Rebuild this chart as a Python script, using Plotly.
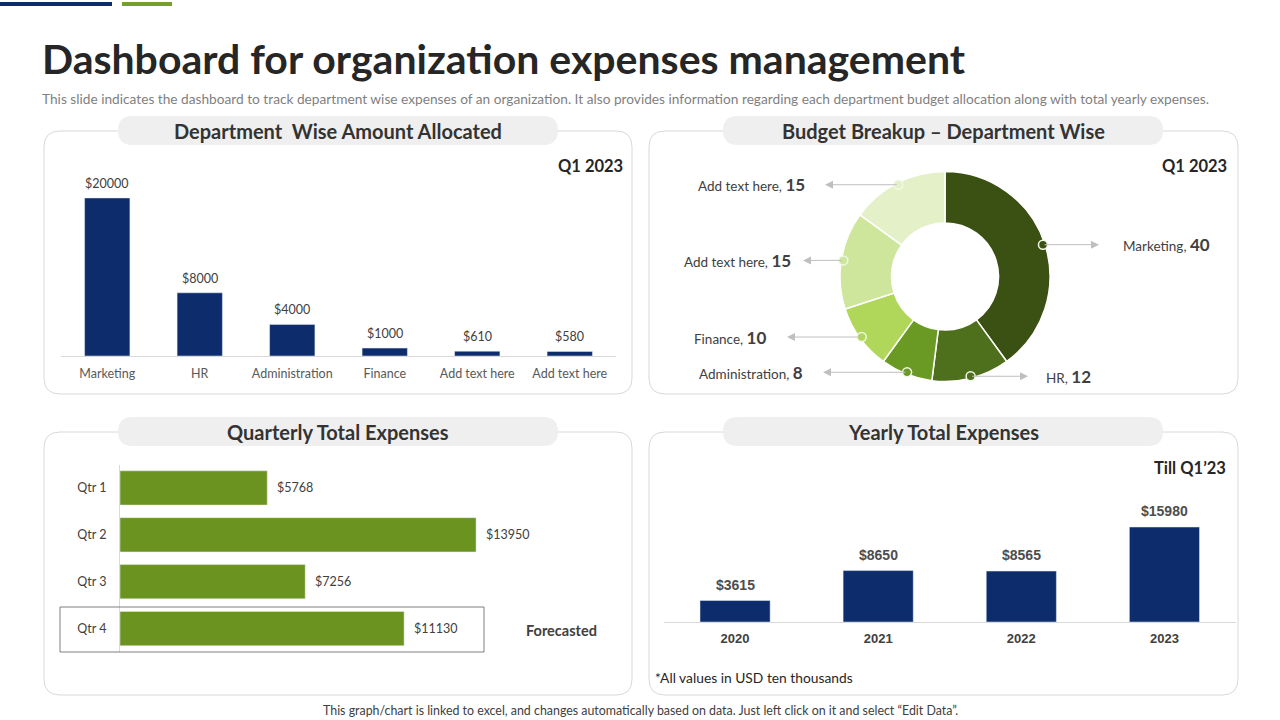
import math
import plotly.graph_objects as go

# ---------------- data ----------------
dept_categories = ["Marketing", "HR", "Administration", "Finance", "Add text here", "Add text here"]
dept_amounts = [20000, 8000, 4000, 1000, 610, 580]

budget_labels = ["Marketing", "HR", "Administration", "Finance", "Add text here", "Add text here"]
budget_shares = [40, 12, 8, 10, 15, 15]

quarters = ["Qtr 1", "Qtr 2", "Qtr 3", "Qtr 4"]
quarter_expenses = [5768, 13950, 7256, 11130]

years = ["2020", "2021", "2022", "2023"]
yearly_expenses = [3615, 8650, 8565, 15980]

# ---------------- styling ----------------
W, H = 1280, 720
NAVY = "#0d2c6b"
GREEN = "#6b931f"
DONUT_COLORS = ["#3b5113", "#4e6f1c", "#6b9a24", "#b0d75a", "#cde69c", "#e4f1c8"]
BODY_FONT = "Lato"
HEAD_FONT = "Lato"
ARIAL = "Liberation Sans"


def X(p):
    return p / W


def Y(p):
    return 1 - p / H


def rrect_path(x0, y0, x1, y1, r):
    pts = [
        ("M", [(x0 + r, y0)]), ("L", [(x1 - r, y0)]), ("Q", [(x1, y0), (x1, y0 + r)]),
        ("L", [(x1, y1 - r)]), ("Q", [(x1, y1), (x1 - r, y1)]), ("L", [(x0 + r, y1)]),
        ("Q", [(x0, y1), (x0, y1 - r)]), ("L", [(x0, y0 + r)]), ("Q", [(x0, y0), (x0 + r, y0)]),
    ]
    s = ""
    for cmd, ps in pts:
        s += cmd + " " + " ".join(f"{X(a):.5f},{Y(b):.5f}" for a, b in ps) + " "
    return s + "Z"


fig = go.Figure()

# ---- chart 1 : department wise amount allocated ----
dept_x = list(range(len(dept_categories)))
fig.add_trace(go.Bar(x=dept_x, y=dept_amounts, marker_color=NAVY, width=0.49,
                     xaxis="x", yaxis="y", hoverinfo="skip"))

# ---- chart 2 : donut ----
fig.add_trace(go.Pie(values=budget_shares, text=budget_labels, hole=0.51, sort=False,
                     direction="clockwise", rotation=0, textinfo="none",
                     marker=dict(colors=DONUT_COLORS, line=dict(color="white", width=1.5)),
                     domain=dict(x=[X(840), X(1050)], y=[Y(381.5), Y(171.5)]),
                     hoverinfo="text+value", showlegend=False))

# ---- chart 3 : quarterly expenses ----
fig.add_trace(go.Bar(y=quarters, x=quarter_expenses, orientation="h", marker_color=GREEN,
                     width=0.73, xaxis="x3", yaxis="y3", hoverinfo="skip"))

# ---- chart 4 : yearly expenses ----
year_x = list(range(len(years)))
fig.add_trace(go.Bar(x=year_x, y=yearly_expenses, marker_color=NAVY, width=0.49,
                     xaxis="x4", yaxis="y4", hoverinfo="skip"))

annotations = []
shapes = []

# header deco bars
shapes.append(dict(type="rect", xref="paper", yref="paper", x0=X(0), x1=X(112), y0=Y(6), y1=Y(2),
                   fillcolor=NAVY, line_width=0, layer="above"))
shapes.append(dict(type="rect", xref="paper", yref="paper", x0=X(122), x1=X(172), y0=Y(6), y1=Y(2),
                   fillcolor="#76a02c", line_width=0, layer="above"))

# panels and header pills
panels = [(44, 131, 632, 394), (649, 131, 1238, 394), (44, 432, 632, 695), (649, 432, 1238, 695)]
pills = [(118, 116, 558, 145), (723, 116, 1163, 145), (118, 417, 558, 446), (723, 417, 1163, 446)]
pill_titles = ["Department  Wise Amount Allocated", "Budget Breakup \u2013 Department Wise",
               "Quarterly Total Expenses", "Yearly Total Expenses"]
for (x0, y0, x1, y1) in panels:
    shapes.append(dict(type="path", xref="paper", yref="paper", path=rrect_path(x0, y0, x1, y1, 16),
                       line=dict(color="#d9d9d9", width=1), fillcolor="rgba(0,0,0,0)", layer="below"))
for (x0, y0, x1, y1), t in zip(pills, pill_titles):
    shapes.append(dict(type="path", xref="paper", yref="paper",
                       path=rrect_path(x0, y0, x1, y1, (y1 - y0) / 2),
                       line=dict(width=0), fillcolor="#efefef", layer="below"))
    annotations.append(dict(xref="paper", yref="paper", x=X((x0 + x1) / 2), y=Y((y0 + y1) / 2),
                            text=f"<b>{t}</b>", showarrow=False, xanchor="center", yanchor="middle",
                            font=dict(family=HEAD_FONT, size=20, color="#333333")))

# title / subtitle / footer
annotations.append(dict(xref="paper", yref="paper", x=X(40), y=Y(58), xanchor="left", yanchor="middle",
                        text="<b>Dashboard for organization expenses management</b>", showarrow=False,
                        font=dict(family=HEAD_FONT, size=41, color="#262626")))
annotations.append(dict(xref="paper", yref="paper", x=X(40), y=Y(99), xanchor="left", yanchor="middle",
                        text="This slide indicates the dashboard to track department wise expenses of an organization. "
                             "It also provides information regarding each department budget allocation along with total yearly expenses.",
                        showarrow=False, font=dict(family=BODY_FONT, size=13.7, color="#7f7f7f")))
annotations.append(dict(xref="paper", yref="paper", x=X(640), y=Y(710), xanchor="center", yanchor="middle",
                        text="This graph/chart is linked to excel, and changes automatically based on data. "
                             "Just left click on it and select \u201cEdit Data\u201d.",
                        showarrow=False, font=dict(family=BODY_FONT, size=12.4, color="#404040")))

# period labels
for x, y, t in [(625, 166, "Q1 2023"), (1229, 166, "Q1 2023"), (1228, 468, "Till Q1\u201923")]:
    annotations.append(dict(xref="paper", yref="paper", x=X(x), y=Y(y), xanchor="right", yanchor="middle",
                            text=f"<b>{t}</b>", showarrow=False,
                            font=dict(family=BODY_FONT, size=16.5, color="#262626")))

# chart 1 value labels
for xi, v in zip(dept_x, dept_amounts):
    annotations.append(dict(xref="x", yref="y", x=xi, y=v, yanchor="bottom", yshift=5,
                            text=f"${v}", showarrow=False,
                            font=dict(family=BODY_FONT, size=12.5, color="#404040")))

# chart 3 value labels
for q, v in zip(quarters, quarter_expenses):
    annotations.append(dict(xref="x3", yref="y3", x=v, y=q, xanchor="left", xshift=8,
                            text=f"${v}", showarrow=False,
                            font=dict(family=BODY_FONT, size=12.5, color="#404040")))
shapes.append(dict(type="rect", xref="paper", yref="paper", x0=X(60), x1=X(484), y0=Y(652), y1=Y(607),
                   line=dict(color="#7f7f7f", width=1), fillcolor="rgba(0,0,0,0)", layer="above"))
annotations.append(dict(xref="paper", yref="paper", x=X(561), y=Y(630), xanchor="center", yanchor="middle",
                        text="<b>Forecasted</b>", showarrow=False,
                        font=dict(family=BODY_FONT, size=14.5, color="#404040")))

# chart 4 value labels
for xi, v in zip(year_x, yearly_expenses):
    annotations.append(dict(xref="x4", yref="y4", x=xi, y=v, yanchor="bottom", yshift=6,
                            text=f"<b>${v}</b>", showarrow=False,
                            font=dict(family=ARIAL, size=14, color="#4d4d4d")))
annotations.append(dict(xref="paper", yref="paper", x=X(653), y=Y(677), xanchor="left", yanchor="middle",
                        text="*All values in USD ten thousands", showarrow=False,
                        font=dict(family=BODY_FONT, size=13.8, color="#262626")))

# donut leader dots, arrows and labels (positions derived from the slice mid-angles)
CX, CY, R = 945, 276.5, 105
arrow_tips = [1099, 1028, 823, 787, 803, 825]
label_gaps = [22, 16, 18, 19, 10, 18]
total = sum(budget_shares)
cum = 0
for i, (lab, v) in enumerate(zip(budget_labels, budget_shares)):
    mid = (cum + v / 2) / total * 2 * math.pi
    cum += v
    dx = CX + (R - 2) * math.sin(mid)
    dy = CY - (R - 2) * math.cos(mid)
    tip = arrow_tips[i]
    annotations.append(dict(xref="paper", yref="paper", x=X(tip), y=Y(dy), ax=dx - tip, ay=0,
                            text="", showarrow=True, arrowhead=2, arrowsize=1.6, arrowwidth=1,
                            arrowcolor="#bfbfbf"))
    shapes.append(dict(type="circle", xref="paper", yref="paper", x0=X(dx - 4.5), x1=X(dx + 4.5),
                       y0=Y(dy + 4.5), y1=Y(dy - 4.5), fillcolor=DONUT_COLORS[i],
                       line=dict(color="#f2f8e6", width=1.5), layer="above"))
    right = dx > CX
    annotations.append(dict(xref="paper", yref="paper",
                            x=X(tip + label_gaps[i]) if right else X(tip - label_gaps[i]),
                            y=Y(dy), xanchor="left" if right else "right", yanchor="middle",
                            text=f"{lab}, <b><span style='font-size:17px'>{v}</span></b>",
                            showarrow=False, font=dict(family=BODY_FONT, size=13.5, color="#404040")))

fig.update_layout(
    width=W, height=H, autosize=False, margin=dict(l=0, r=0, t=0, b=0),
    paper_bgcolor="white", plot_bgcolor="rgba(0,0,0,0)", showlegend=False,
    annotations=annotations, shapes=shapes,
    xaxis=dict(domain=[X(61), X(616)], range=[-0.5, len(dept_x) - 0.5], tickvals=dept_x,
               ticktext=dept_categories, showline=True, linecolor="#d9d9d9", linewidth=1,
               showgrid=False, zeroline=False, ticks="", ticklabelstandoff=6, fixedrange=True,
               tickfont=dict(family=BODY_FONT, size=12.5, color="#595959"), anchor="y"),
    yaxis=dict(domain=[Y(356), Y(170)], range=[0, max(dept_amounts) * 1.177], visible=False,
               showgrid=False, zeroline=False, anchor="x"),
    xaxis3=dict(domain=[X(120), X(600)], range=[0, max(quarter_expenses) * 1.348], visible=False,
                showgrid=False, zeroline=False, anchor="y3"),
    yaxis3=dict(domain=[Y(652), Y(464.5)], autorange="reversed", type="category", showline=True,
                linecolor="#d9d9d9", linewidth=1, showgrid=False, zeroline=False, ticks="",
                ticklabelstandoff=10, tickfont=dict(family=BODY_FONT, size=12.5, color="#404040"),
                anchor="x3"),
    xaxis4=dict(domain=[X(663.5), X(1236)], range=[-0.5, len(year_x) - 0.5], tickvals=year_x,
                ticktext=[f"<b>{y}</b>" for y in years], showline=True, linecolor="#d9d9d9",
                linewidth=1, showgrid=False, zeroline=False, ticks="", ticklabelstandoff=4,
                tickfont=dict(family=ARIAL, size=13, color="#404040"), anchor="y4"),
    yaxis4=dict(domain=[Y(622), Y(480)], range=[0, max(yearly_expenses) * 1.495], visible=False,
                showgrid=False, zeroline=False, anchor="x4"),
)

fig.write_html("out.html")
